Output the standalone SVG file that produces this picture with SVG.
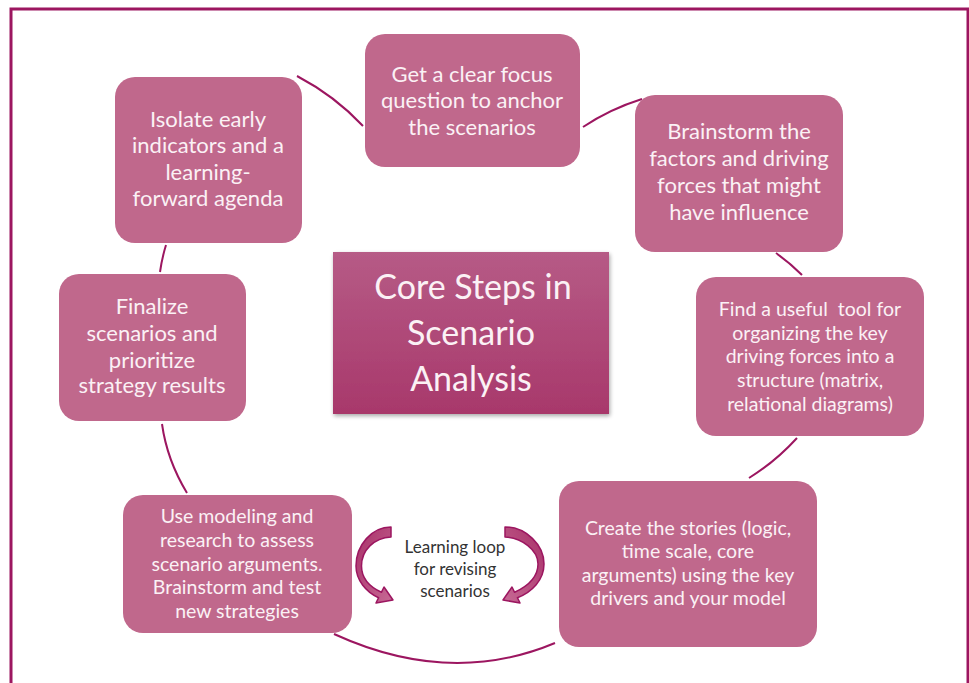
<svg xmlns="http://www.w3.org/2000/svg" width="969" height="683" viewBox="0 0 969 683">
<defs>
<linearGradient id="coreGrad" x1="0" y1="0" x2="0" y2="1">
<stop offset="0" stop-color="#b65b86"/>
<stop offset="1" stop-color="#a8386b"/>
</linearGradient>
<linearGradient id="arrGrad" x1="0" y1="0" x2="1" y2="1">
<stop offset="0" stop-color="#a83068"/>
<stop offset="1" stop-color="#c76a95"/>
</linearGradient>
<filter id="shadow" x="-10%" y="-10%" width="120%" height="120%">
<feGaussianBlur in="SourceAlpha" stdDeviation="2"/>
<feOffset dx="1" dy="2"/>
<feComponentTransfer><feFuncA type="linear" slope="0.35"/></feComponentTransfer>
<feMerge><feMergeNode/><feMergeNode in="SourceGraphic"/></feMerge>
</filter>
</defs>
<style>
.box { fill: #c0688c; }
.t { font-family: Lato, "Open Sans", "Liberation Sans", sans-serif; fill: #fbf1f5; text-anchor: middle; }
.lg { font-size: 22px; }
.md { font-size: 19.5px; }
.core { font-size: 34px; }
.conn { fill: none; stroke: #9c1660; stroke-width: 2; }
.arr { fill: url(#arrGrad); stroke: #9c1660; stroke-width: 1.5; stroke-linejoin: round; }
.loop { font-family: Lato, "Open Sans", "Liberation Sans", sans-serif; font-size: 17px; fill: #333333; text-anchor: middle; }
</style>
<rect x="0" y="0" width="969" height="683" fill="#ffffff"/>
<rect x="11" y="9" width="957" height="690" fill="none" stroke="#9c1660" stroke-width="3"/>

<g id="connectors">
<path class="conn" d="M297,76 Q335,96 363,126"/>
<path class="conn" d="M583,127 Q610,109 642,99"/>
<path class="conn" d="M776,253 Q790,263 802,275"/>
<path class="conn" d="M797,438 Q775,462 749,478"/>
<path class="conn" d="M555,643 Q450,687 334,634"/>
<path class="conn" d="M187,493 Q167,460 162,424"/>
<path class="conn" d="M166,245 Q162,258 160,272"/>
</g>

<g id="node-core">
<rect x="333" y="252" width="276" height="162" fill="url(#coreGrad)" filter="url(#shadow)"/>
<text class="t core" x="473" y="299">Core Steps in</text>
<text class="t core" x="471" y="345">Scenario</text>
<text class="t core" x="471" y="391">Analysis</text>
</g>

<g id="node-focus">
<rect class="box" x="365" y="34" width="215" height="133" rx="20"/>
<text class="t lg" x="472" y="82">Get a clear focus</text>
<text class="t lg" x="472" y="108">question to anchor</text>
<text class="t lg" x="472" y="135">the scenarios</text>
</g>

<g id="node-brainstorm">
<rect class="box" x="635" y="95" width="208" height="157" rx="20"/>
<text class="t lg" x="739" y="139">Brainstorm the</text>
<text class="t lg" x="739" y="166">factors and driving</text>
<text class="t lg" x="739" y="193">forces that might</text>
<text class="t lg" x="739" y="220">have influence</text>
</g>

<g id="node-tool">
<rect class="box" x="696" y="277" width="228" height="159" rx="20"/>
<text class="t md" x="810" y="316" xml:space="preserve">Find a useful  tool for</text>
<text class="t md" x="810" y="340">organizing the key</text>
<text class="t md" x="810" y="363">driving forces into a</text>
<text class="t md" x="810" y="387">structure (matrix,</text>
<text class="t md" x="810" y="411">relational diagrams)</text>
</g>

<g id="node-stories">
<rect class="box" x="559" y="481" width="258" height="166" rx="20"/>
<text class="t md" x="688" y="535">Create the stories (logic,</text>
<text class="t md" x="688" y="558">time scale, core</text>
<text class="t md" x="688" y="582">arguments) using the key</text>
<text class="t md" x="688" y="605">drivers and your model</text>
</g>

<g id="node-modeling">
<rect class="box" x="123" y="495" width="229" height="138" rx="20"/>
<text class="t md" x="237" y="523">Use modeling and</text>
<text class="t md" x="237" y="547">research to assess</text>
<text class="t md" x="237" y="571">scenario arguments.</text>
<text class="t md" x="237" y="594">Brainstorm and test</text>
<text class="t md" x="237" y="618">new strategies</text>
</g>

<g id="node-finalize">
<rect class="box" x="59" y="274" width="187" height="147" rx="20"/>
<text class="t lg" x="152" y="314">Finalize</text>
<text class="t lg" x="152" y="341">scenarios and</text>
<text class="t lg" x="152" y="368">prioritize</text>
<text class="t lg" x="152" y="393">strategy results</text>
</g>

<g id="node-isolate">
<rect class="box" x="115" y="77" width="187" height="166" rx="20"/>
<text class="t lg" x="208" y="127">Isolate early</text>
<text class="t lg" x="208" y="153">indicators and a</text>
<text class="t lg" x="208" y="180">learning-</text>
<text class="t lg" x="208" y="206">forward agenda</text>
</g>

<g id="learning-loop">
<path class="arr" d="M391,527 C372,527 356,545 356,566 C356,580 366,592 378.6,597.7 L376,603 L393,600 L384,587 L381.4,592.3 C370,587 361.5,578 361.5,566 C361.5,550 374,538 391,537 Z"/>
<path class="arr" transform="translate(896,0) scale(-1,1)" d="M391,527 C370,527 352,545 352,564 C352,580 364,592 378.6,597.7 L376,603 L393,600 L384,587 L381.4,592.3 C370,587 358,578 358,564 C358,550 374,538 391,537 Z"/>
<text class="loop" x="455" y="553">Learning loop</text>
<text class="loop" x="455" y="575">for revising</text>
<text class="loop" x="455" y="597">scenarios</text>
</g>
</svg>
